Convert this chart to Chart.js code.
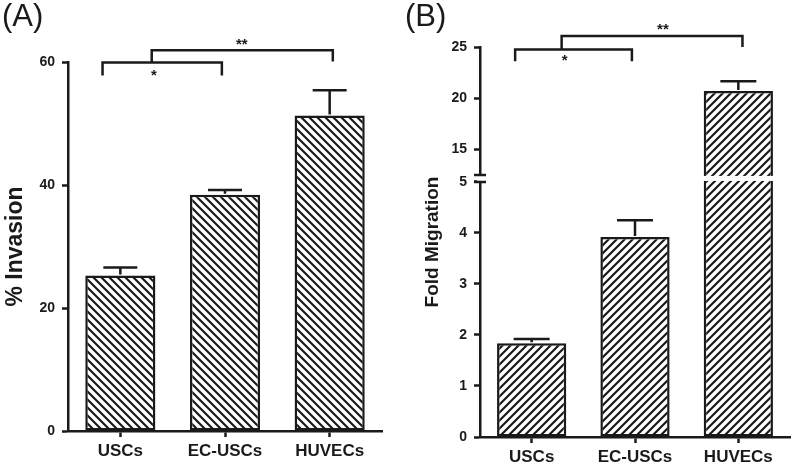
<!DOCTYPE html>
<html>
<head>
<meta charset="utf-8">
<script src="https://cdn.jsdelivr.net/npm/chart.js@4.4.0/dist/chart.umd.min.js"></script>
<style>
  html, body { margin: 0; padding: 0; background: #fff; }
  body { width: 797px; height: 469px; position: relative; overflow: hidden; font-family: Arial, "Liberation Sans", sans-serif; }
  .panel { position: absolute; top: 0; height: 469px; }
  #pa { left: 0; width: 400px; }
  #pb { left: 400px; width: 397px; }
  .tag { position: absolute; top: -2px; font-size: 31px; color: #1a1a1a; font-family: Arial, "Liberation Sans", sans-serif; }
</style>
</head>
<body>
<div class="panel" id="pa"><canvas id="ca" width="400" height="469"></canvas></div>
<div class="panel" id="pb"><canvas id="cb" width="397" height="469"></canvas></div>
<div class="tag" style="left:2px">(A)</div>
<div class="tag" style="left:405px">(B)</div>
<script>
// ---------- data ----------
const categories = ['USCs', 'EC-USCs', 'HUVECs'];

const invasionMean = [25.3, 38.4, 51.3];
const invasionErr  = [1.3, 0.8, 4.1];
const invasionTicks = [0, 20, 40, 60];

const migrationMean = [1.84, 3.92, 20.7];
const migrationErr  = [0.08, 0.33, 0.95];
const migrationTicks = [0, 1, 2, 3, 4, 5, 15, 20, 25];
const migrationBreak = [5, 12.5];   // axis is cut between these values

// significance brackets (x in category index units, y in data units)
const bracketsA = [
  { x1: -0.17, x2: 0.97, y: 59.9, y1: 57.8, y2: 57.8, label: '*',  lx: 0.32, ly: 58.3 },
  { x1: 0.30,  x2: 2.03, y: 61.9, y1: 59.9, y2: 60.1, label: '**', lx: 1.16, ly: 63.2 }
];
const bracketsB = [
  { x1: -0.16, x2: 0.97, y: 24.75, y1: 23.6,  y2: 23.6, label: '*',  lx: 0.32, ly: 23.95 },
  { x1: 0.29,  x2: 2.04, y: 26.07, y1: 24.75, y2: 25.0, label: '**', lx: 1.27, ly: 27.0 }
];

// ---------- styling helpers ----------
const INK = '#1a1a1a';
const FONT = 'Arial, "Liberation Sans", sans-serif';

function hatch(dir) {
  const s = 8;
  const c = document.createElement('canvas');
  c.width = s; c.height = s;
  const g = c.getContext('2d');
  g.fillStyle = '#fff'; g.fillRect(0, 0, s, s);
  g.strokeStyle = INK; g.lineWidth = 2.2; g.lineCap = 'square';
  g.beginPath();
  if (dir === 'back') {
    g.moveTo(-1, -1); g.lineTo(s + 1, s + 1);
    g.moveTo(-1, s - 1); g.lineTo(1, s + 1);
    g.moveTo(s - 1, -1); g.lineTo(s + 1, 1);
  } else {
    g.moveTo(-1, s + 1); g.lineTo(s + 1, -1);
    g.moveTo(-1, 1); g.lineTo(1, -1);
    g.moveTo(s - 1, s + 1); g.lineTo(s + 1, s - 1);
  }
  g.stroke();
  return g.createPattern(c, 'repeat');
}

// ---------- broken linear scale ----------
class BrokenScale extends Chart.LinearScale {
  static id = 'broken';
  static defaults = {};
  buildTicks() {
    return this.options.tickValues.map(v => ({ value: v }));
  }
  _dec(v) {
    const o = this.options.brk;
    const min = this.min, max = this.max;
    if (v <= o.low) return (v - min) / (o.low - min) * o.lowFrac;
    if (v >= o.high) return o.highFrac + (v - o.high) / (max - o.high) * (1 - o.highFrac);
    return o.lowFrac + (v - o.low) / (o.high - o.low) * (o.highFrac - o.lowFrac);
  }
  getPixelForValue(v) {
    if (v === null || v === undefined) return NaN;
    return this.getPixelForDecimal(this._dec(v));
  }
  getValueForPixel(p) {
    const d = this.getDecimalForPixel(p);
    const o = this.options.brk;
    if (d <= o.lowFrac) return this.min + d / o.lowFrac * (o.low - this.min);
    if (d >= o.highFrac) return o.high + (d - o.highFrac) / (1 - o.highFrac) * (this.max - o.high);
    return o.low + (d - o.lowFrac) / (o.highFrac - o.lowFrac) * (o.high - o.low);
  }
}
Chart.register(BrokenScale);

// ---------- annotation plugin (error bars + brackets + axis break) ----------
const annot = {
  id: 'annot',
  afterDatasetsDraw(chart, args, opts) {
    const ctx = chart.ctx;
    const x = chart.scales.x, y = chart.scales.y;
    const meta = chart.getDatasetMeta(0);
    ctx.save();
    ctx.strokeStyle = INK; ctx.fillStyle = INK; ctx.lineWidth = 2.5; ctx.lineCap = 'butt';

    // axis break
    if (opts.brk) {
      const yHi = y.getPixelForValue(opts.brk[1]);
      const yLo = y.getPixelForValue(opts.brk[0]);
      ctx.fillStyle = '#fff';
      ctx.fillRect(chart.chartArea.left + 2, yHi + 1, chart.chartArea.width, yLo - yHi - 2);
      ctx.fillRect(y.right - 3, yHi + 1, 6, yLo - yHi - 2);
      ctx.fillStyle = INK;
      ctx.beginPath();
      ctx.moveTo(y.right - 6, yHi); ctx.lineTo(y.right + 6, yHi);
      ctx.moveTo(y.right - 6, yLo); ctx.lineTo(y.right + 6, yLo);
      ctx.stroke();
    }

    // error bars
    const mean = chart.data.datasets[0].data;
    const err = opts.err;
    meta.data.forEach((bar, i) => {
      const cx = bar.x;
      const top = y.getPixelForValue(mean[i]);
      const et = y.getPixelForValue(mean[i] + err[i]);
      ctx.beginPath();
      ctx.moveTo(cx, top - 1); ctx.lineTo(cx, et);
      ctx.moveTo(cx - opts.cap / 2, et); ctx.lineTo(cx + opts.cap / 2, et);
      ctx.stroke();
    });

    // brackets
    ctx.font = 'bold 15px ' + FONT;
    ctx.textAlign = 'center'; ctx.textBaseline = 'middle';
    opts.brackets.forEach(b => {
      const X1 = x.getPixelForValue(b.x1), X2 = x.getPixelForValue(b.x2);
      const Y = y.getPixelForValue(b.y);
      ctx.beginPath();
      ctx.moveTo(X1, y.getPixelForValue(b.y1));
      ctx.lineTo(X1, Y); ctx.lineTo(X2, Y);
      ctx.lineTo(X2, y.getPixelForValue(b.y2));
      ctx.stroke();
      ctx.fillText(b.label, x.getPixelForValue(b.lx), y.getPixelForValue(b.ly) + 3);
    });
    ctx.restore();
  }
};

function makeChart(canvasId, cfg) {
  return new Chart(document.getElementById(canvasId), {
    type: 'bar',
    data: {
      labels: categories,
      datasets: [{
        data: cfg.mean,
        backgroundColor: hatch(cfg.hatch),
        borderColor: INK,
        borderWidth: 2.5,
        borderSkipped: false,
        barPercentage: 0.67,
        categoryPercentage: 1.0
      }]
    },
    options: {
      responsive: false,
      animation: false,
      events: [],
      layout: { padding: cfg.padding },
      plugins: {
        legend: { display: false },
        tooltip: { enabled: false },
        annot: { err: cfg.err, cap: cfg.cap, brackets: cfg.brackets, brk: cfg.brk }
      },
      scales: {
        x: {
          offset: true,
          grid: { display: true, offset: false, drawOnChartArea: false, drawTicks: true, tickLength: 6, tickWidth: 2.5, tickColor: INK },
          border: { display: true, width: 2.5, color: INK },
          ticks: { color: INK, font: { family: FONT, size: 17, weight: 'bold' }, padding: 4, maxRotation: 0 },
          afterFit: s => { s.height = cfg.xHeight; }
        },
        y: cfg.yScale
      }
    },
    plugins: [annot]
  });
}

const yCommon = (title, titleSize, titlePad, width) => ({
  grid: { display: true, drawOnChartArea: false, drawTicks: true, tickLength: 6, tickWidth: 2.5, tickColor: INK },
  border: { display: true, width: 2.5, color: INK },
  title: { display: true, text: title, color: INK, font: { family: FONT, size: titleSize, weight: 'bold' }, padding: { top: titlePad, bottom: 0 } },
  afterFit: s => { s.width = width; }
});

makeChart('ca', {
  mean: invasionMean, err: invasionErr, hatch: 'back', cap: 34, brackets: bracketsA,
  padding: { top: 62, right: 18, left: 0, bottom: 0 }, xHeight: 38,
  yScale: Object.assign(yCommon('% Invasion', 23, 2, 68), {
    min: 0, max: 60,
    ticks: { color: INK, font: { family: FONT, size: 14, weight: 'bold' }, padding: 7, stepSize: 20,
             callback: v => invasionTicks.includes(v) ? String(v) : '' },
    afterBuildTicks: s => { s.ticks = invasionTicks.map(v => ({ value: v })); }
  })
});

makeChart('cb', {
  mean: migrationMean, err: migrationErr, hatch: 'fwd', cap: 36, brackets: bracketsB,
  brk: migrationBreak,
  padding: { top: 47, right: 7, left: 0, bottom: 0 }, xHeight: 32,
  yScale: Object.assign(yCommon('Fold Migration', 19, 21, 80), {
    type: 'broken', min: 0, max: 25,
    tickValues: migrationTicks,
    brk: { low: migrationBreak[0], high: migrationBreak[1], lowFrac: 0.654, highFrac: 0.672 },
    ticks: { color: INK, font: { family: FONT, size: 14, weight: 'bold' }, padding: 7,
             callback: v => String(v) }
  })
});
</script>
</body>
</html>
